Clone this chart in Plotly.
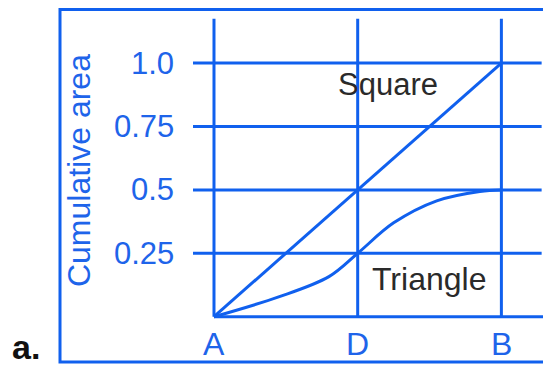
"""Cumulative area of a square and a triangle along A-D-B."""

import plotly.graph_objects as go

# values
X_TICK_POS = [0, 1, 2]
X_TICK_LABELS = ["A", "D", "B"]
Y_TICKS = [0.25, 0.5, 0.75, 1.0]
Y_TICK_LABELS = ["0.25", "0.5", "0.75", "1.0"]

SQUARE_X = [0, 1, 2]
SQUARE_Y = [0, 0.5, 1.0]

TRIANGLE_X = [0, 0.45, 0.8, 1.0, 1.25, 1.55, 1.85, 2.0]
TRIANGLE_Y = [0, 0.078, 0.158, 0.25, 0.37, 0.457, 0.494, 0.5]

BLUE = "#1060ee"
TEXT_BLUE = "#1e64ea"
DARK = "#2a2a2a"
FONT = "Liberation Sans"

# the page body has an 8px margin, so the figure is 8px smaller than the window
W, H = 543, 357

# layout extents (data units)
X_RANGE = [-1.4335, 2.3452]
Y_RANGE = [-0.1905, 1.2173]
GRID_LEFT = -0.146
GRID_RIGHT = 2.28
AXIS_RIGHT = 2.36
VLINE_TOP = 1.175
LW = 3


def build_figure() -> go.Figure:
    fig = go.Figure()

    shapes = []
    for y in Y_TICKS:
        shapes.append(dict(type="line", xref="x", yref="y", x0=GRID_LEFT, x1=GRID_RIGHT,
                           y0=y, y1=y, line=dict(color=BLUE, width=LW)))
    # x axis
    shapes.append(dict(type="line", xref="x", yref="y", x0=X_TICK_POS[0], x1=AXIS_RIGHT,
                       y0=0, y1=0, line=dict(color=BLUE, width=LW)))
    for x in X_TICK_POS:
        shapes.append(dict(type="line", xref="x", yref="y", x0=x, x1=x,
                           y0=0, y1=VLINE_TOP, line=dict(color=BLUE, width=LW)))
    # outer frame
    shapes.append(dict(type="rect", xref="paper", yref="paper", x0=52 / W, x1=1.05,
                       y0=1 - 354 / H, y1=1 - 1.5 / H,
                       line=dict(color=BLUE, width=LW)))

    fig.add_trace(go.Scatter(x=SQUARE_X, y=SQUARE_Y, mode="lines",
                             line=dict(color=BLUE, width=LW), hoverinfo="skip"))
    fig.add_trace(go.Scatter(x=TRIANGLE_X, y=TRIANGLE_Y, mode="lines",
                             line=dict(color=BLUE, width=LW, shape="spline", smoothing=1.0),
                             hoverinfo="skip"))

    annotations = []
    for y, label in zip(Y_TICKS, Y_TICK_LABELS):
        annotations.append(dict(x=-0.262, y=y, text=label, xanchor="right", yanchor="middle",
                                showarrow=False, font=dict(family=FONT, size=31, color=TEXT_BLUE)))
    for x, label in zip(X_TICK_POS, X_TICK_LABELS):
        annotations.append(dict(x=x, y=-0.108, text=label, xanchor="center", yanchor="middle",
                                showarrow=False, font=dict(family=FONT, size=32, color=TEXT_BLUE)))
    annotations += [
        dict(x=-0.94, y=0.578, text="Cumulative area", textangle=-90, showarrow=False,
             xanchor="center", yanchor="middle", font=dict(family=FONT, size=32, color=TEXT_BLUE)),
        dict(x=1.21, y=0.914, text="Square", showarrow=False, xanchor="center", yanchor="middle",
             font=dict(family=FONT, size=31, color=DARK)),
        dict(x=1.496, y=0.15, text="Triangle", showarrow=False, xanchor="center", yanchor="middle",
             font=dict(family=FONT, size=32, color=DARK)),
        dict(x=2 / W, y=1 - 339 / H, xref="paper", yref="paper", text="<b>a.</b>",
             showarrow=False, xanchor="left", yanchor="middle",
             font=dict(family=FONT, size=34, color="#111111")),
    ]

    fig.update_layout(
        width=W,
        height=H,
        autosize=False,
        margin=dict(l=0, r=0, t=0, b=0, pad=0),
        paper_bgcolor="white",
        plot_bgcolor="white",
        showlegend=False,
        shapes=shapes,
        annotations=annotations,
        xaxis=dict(range=X_RANGE, visible=False, fixedrange=True),
        yaxis=dict(range=Y_RANGE, visible=False, fixedrange=True),
    )
    return fig


fig = build_figure()
fig.write_html("out.html")
